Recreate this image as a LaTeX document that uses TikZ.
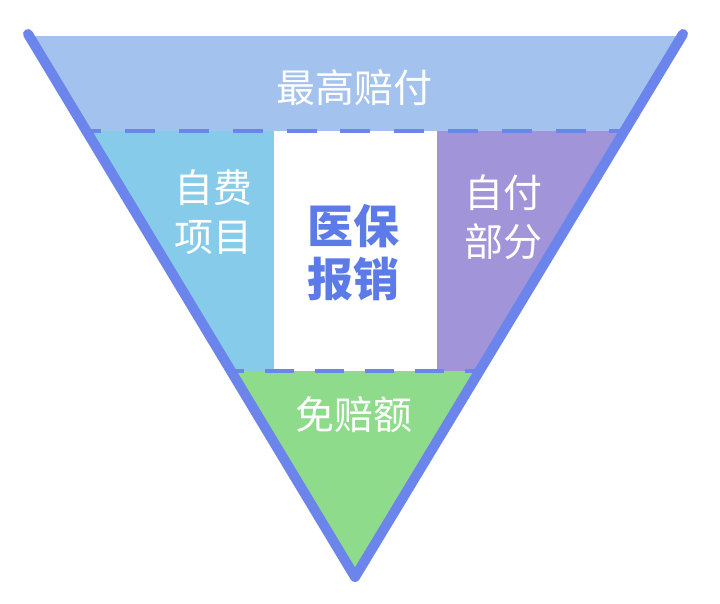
\documentclass[tikz,border=0pt]{standalone}
\usepackage{fontspec}
\usetikzlibrary{calc}
\newfontfamily\cjk{Noto Sans CJK SC}
\definecolor{edgeblue}{HTML}{6C85EC}
\definecolor{textblue}{HTML}{5D7BE8}
\definecolor{bandtop}{HTML}{A4C2EE}
\definecolor{bandleft}{HTML}{86CBEA}
\definecolor{bandright}{HTML}{A194D9}
\definecolor{bandlow}{HTML}{8FDB8C}
\begin{document}
\begin{tikzpicture}[x=1pt,y=-1pt, tag/.style={text=white,font=\cjk\fontsize{39}{49}\selectfont,align=center}, mainlabel/.style={text=textblue,font=\cjk\bfseries\fontsize{46}{53}\selectfont,align=center}, rim/.style={draw=edgeblue,line width=10pt,line cap=round,line join=round}, cut/.style={draw=edgeblue,line width=4pt}]
      \useasboundingbox (0,0) rectangle (720,604);
      \coordinate (tl) at (28,34);
      \coordinate (tr) at (683,34);
      \coordinate (tip) at (355,577);

      \begin{scope}
        \clip (tl) -- (tr) -- (tip) -- cycle;
        \fill[bandtop] (0,36) rectangle (720,131);
        \fill[bandleft] (0,131) rectangle (274,371);
        \fill[bandright] (437,131) rectangle (720,371);
        \fill[bandlow] (0,371) rectangle (720,604);
      \end{scope}

      \coordinate (ul) at ($(tl)!0.1786!(tip)$);
      \coordinate (ur) at ($(tr)!0.1786!(tip)$);
      \coordinate (ll) at ($(tl)!0.6206!(tip)$);
      \coordinate (lr) at ($(tr)!0.6206!(tip)$);
      \draw[cut, dash pattern=on 30pt off 23.8pt, dash phase=15pt] (ul) -- (ur);
      \draw[cut, dash pattern=on 29pt off 21pt, dash phase=16pt] (ll) -- (lr);
      \draw[rim] (tl) -- (tip) -- (tr);

      \node[tag] (top) at (354,88) {最高赔付};
      \node[tag] (own) at (213,212) {自费\\项目};
      \node[mainlabel] (med) at (353,253) {医保\\报销};
      \node[tag] (self) at (503,217) {自付\\部分};
      \node[tag] (deduct) at (354,415) {免赔额};
    \end{tikzpicture}
\end{document}
